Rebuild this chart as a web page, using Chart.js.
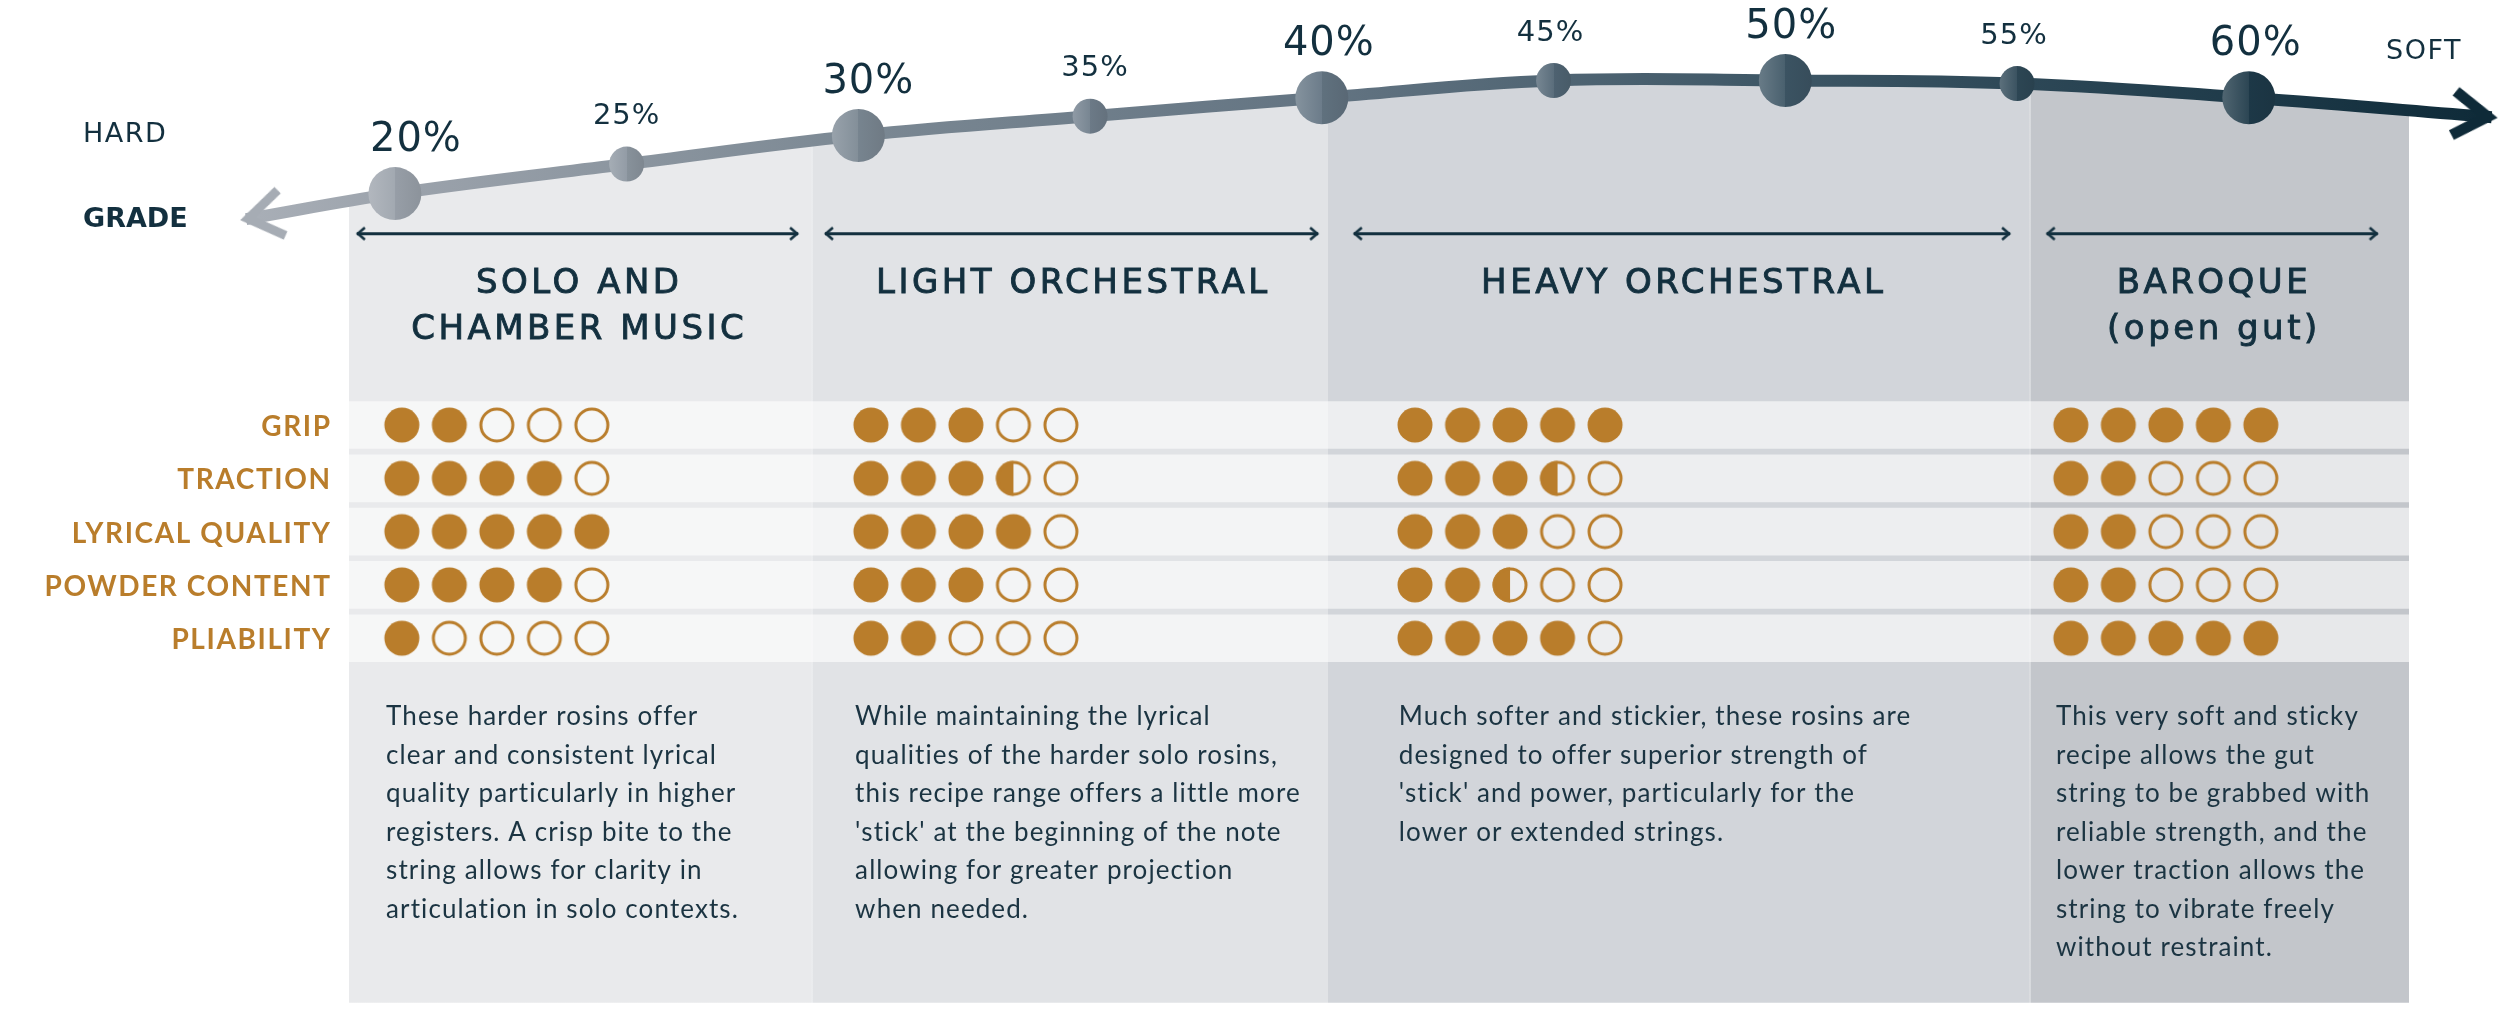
<!DOCTYPE html>
<html>
<head>
<meta charset="utf-8">
<script src="https://cdn.jsdelivr.net/npm/chart.js@4.4.1/dist/chart.umd.min.js"></script>
<style>
  html, body { margin: 0; padding: 0; background: #ffffff; overflow: hidden; }
  canvas { display: block; }
</style>
</head>
<body>
<canvas id="c" width="2500" height="1019" style="width:2500px;height:1019px"></canvas>
<script>
// ================= DATA =================
const grades       = [20, 25, 30, 35, 40, 45, 50, 55, 60];
const gradeLabels  = ['20%', '25%', '30%', '35%', '40%', '45%', '50%', '55%', '60%'];
// elevation of the hardness arc at each grade
const arcHeight    = [79.4, 82.3, 85.1, 87.0, 88.8, 90.5, 90.5, 90.2, 88.8];
// arc end points (hard end, soft end)
const arcEndGrades  = [16.79, 65.24];
const arcEndHeights = [76.9, 86.9];

const categories = [
  ['SOLO AND', 'CHAMBER MUSIC'],
  ['LIGHT ORCHESTRAL'],
  ['HEAVY ORCHESTRAL'],
  ['BAROQUE', '(open gut)']
];
// grade boundaries of the four category panels
const panelEdges = [19.0, 29.0, 40.14, 55.28, 63.45];

const properties = ['GRIP', 'TRACTION', 'LYRICAL QUALITY', 'POWDER CONTENT', 'PLIABILITY'];
const ratingsSolo    = [2, 4, 5, 4, 1];
const ratingsLight   = [3, 3.5, 4, 3, 2];
const ratingsHeavy   = [5, 3.5, 3, 2.5, 4];
const ratingsBaroque = [5, 2, 2, 2, 5];

const descSolo = [
  'These harder rosins offer',
  'clear and consistent lyrical',
  'quality particularly in higher',
  'registers. A crisp bite to the',
  'string allows for clarity in',
  'articulation in solo contexts.'
];
const descLight = [
  'While maintaining the lyrical',
  'qualities of the harder solo rosins,',
  'this recipe range offers a little more',
  "'stick' at the beginning of the note",
  'allowing for greater projection',
  'when needed.'
];
const descHeavy = [
  'Much softer and stickier, these rosins are',
  'designed to offer superior strength of',
  "'stick' and power, particularly for the",
  'lower or extended strings.'
];
const descBaroque = [
  'This very soft and sticky',
  'recipe allows the gut',
  'string to be grabbed with',
  'reliable strength, and the',
  'lower traction allows the',
  'string to vibrate freely',
  'without restraint.'
];
const axisWords = { hard: 'HARD', grade: 'GRADE', soft: 'SOFT' };

// ================= LAYOUT / STYLE =================
const LAYOUT = {
  width: 2500,
  xMin: 11.48, xMax: 65.42,
  arcMin: -1.6, arcMax: 98.4,
  rowMin: -7.974, rowMax: 11.144,
  rangeArrowHeight: 75.47,
  rangeArrows: [[19.18, 28.70], [29.28, 39.92], [40.69, 54.85], [55.64, 62.78]],
  dotStartGrade: [20.15, 30.27, 42.01, 56.16],
  dotStepGrade: 1.025,
  textLeftGrade: [19.81, 29.93, 41.66, 55.84],
  labelDx: [21, 0, 10, 5, 7, -3, 6, -3, 7],
  headingBaselines: [293, 339],
  descFirstBaseline: 725,
  descLineStep: 38.5,
  rowLabelRight: 330,
  arrowRotation: [170, 6]
};
const STYLE = {
  ink: '#13303f',
  text: '#1b3442',
  gold: '#b97d2b',
  panelColors: ['#e9eaec', '#e1e3e6', '#d2d5da', '#c3c6cb'],
  band: 'rgba(255,255,255,0.6)',
  arcStops: [[16.79, '#a9afb7'], [20, '#9ca3ac'], [30, '#7b8893'], [40, '#637482'],
             [50, '#3d5665'], [60, '#1e3a49'], [65.24, '#0e2a38']]
};

// ================= HELPERS =================
function hexToRgb(h) { h = h.replace('#', ''); return [0, 2, 4].map(i => parseInt(h.substr(i, 2), 16)); }
function mix(a, b, t) { return a.map((v, i) => Math.round(v + (b[i] - v) * t)); }
function rgbStr(a) { return 'rgb(' + a[0] + ',' + a[1] + ',' + a[2] + ')'; }
function clamp01(v) { return Math.min(1, Math.max(0, v)); }
function arcColorAt(g) {
  const s = STYLE.arcStops;
  if (g <= s[0][0]) return hexToRgb(s[0][1]);
  for (let i = 1; i < s.length; i++) {
    if (g <= s[i][0]) {
      const t = (g - s[i - 1][0]) / (s[i][0] - s[i - 1][0]);
      return mix(hexToRgb(s[i - 1][1]), hexToRgb(s[i][1]), t);
    }
  }
  return hexToRgb(s[s.length - 1][1]);
}
function scaleReady(chart) {
  const x = chart.scales && chart.scales.x;
  return x && isFinite(x.getPixelForValue(30)) && isFinite(x.getPixelForValue(40)) &&
         x.getPixelForValue(40) !== x.getPixelForValue(30);
}
function arcGradient(chart) {
  if (!scaleReady(chart)) return '#637482';
  const x = chart.scales.x;
  const s = STYLE.arcStops;
  const x0 = x.getPixelForValue(s[0][0]), x1 = x.getPixelForValue(s[s.length - 1][0]);
  const g = chart.ctx.createLinearGradient(x0, 0, x1, 0);
  s.forEach(([v, c]) => g.addColorStop(clamp01((x.getPixelForValue(v) - x0) / (x1 - x0)), c));
  return g;
}
function panelGradient(chart) {
  if (!scaleReady(chart)) return 'rgba(0,0,0,0)';
  const x = chart.scales.x, W = LAYOUT.width;
  const e = panelEdges.map(v => clamp01(x.getPixelForValue(v) / W));
  const d = 1.2 / W;
  const clear = 'rgba(255,255,255,0)';
  const g = chart.ctx.createLinearGradient(0, 0, W, 0);
  g.addColorStop(0, clear);
  g.addColorStop(e[0], clear);
  for (let i = 0; i < 4; i++) {
    g.addColorStop(e[i], STYLE.panelColors[i]);
    if (i === 0 || i === 2) {
      g.addColorStop(e[i + 1] - d, STYLE.panelColors[i]);
      g.addColorStop(e[i + 1] - d, '#f7f8f9');
      g.addColorStop(e[i + 1] + d, '#f7f8f9');
      g.addColorStop(e[i + 1] + d, STYLE.panelColors[i + 1]);
    } else {
      g.addColorStop(e[i + 1], STYLE.panelColors[i]);
    }
  }
  g.addColorStop(e[4], clear);
  g.addColorStop(1, clear);
  return g;
}
function makeCanvas(w, h, draw) {
  const c = document.createElement('canvas');
  c.width = w; c.height = h;
  draw(c.getContext('2d'), w / 2, h / 2);
  return c;
}
const DOT_R = 17.5;
const DOT_FULL = makeCanvas(40, 40, (g, cx, cy) => {
  g.fillStyle = STYLE.gold; g.beginPath(); g.arc(cx, cy, DOT_R, 0, Math.PI * 2); g.fill();
});
const DOT_EMPTY = makeCanvas(40, 40, (g, cx, cy) => {
  g.strokeStyle = STYLE.gold; g.lineWidth = 3; g.beginPath(); g.arc(cx, cy, DOT_R - 1.5, 0, Math.PI * 2); g.stroke();
});
const DOT_HALF = makeCanvas(40, 40, (g, cx, cy) => {
  g.fillStyle = STYLE.gold; g.beginPath(); g.arc(cx, cy, DOT_R, Math.PI / 2, Math.PI * 1.5); g.closePath(); g.fill();
  g.strokeStyle = STYLE.gold; g.lineWidth = 3; g.beginPath(); g.arc(cx, cy, DOT_R - 1.5, 0, Math.PI * 2); g.stroke();
});
function chevron(size, depth, half, lw, color, lead) {
  return makeCanvas(size, size, (g, cx, cy) => {
    const ang = Math.atan2(half, depth);
    const miter = (lw / 2) / Math.sin(ang);
    const ax = cx + lead - miter;
    g.strokeStyle = color; g.lineWidth = lw; g.lineJoin = 'miter'; g.lineCap = 'butt';
    g.beginPath(); g.moveTo(ax - depth, cy - half); g.lineTo(ax, cy); g.lineTo(ax - depth, cy + half); g.stroke();
  });
}
const ARROW_HARD = chevron(110, 34, 23, 9, '#a6acb4', 6);
const ARROW_SOFT = chevron(110, 34, 22, 11, '#0e2a38', 6);
const ARROW_SMALL = chevron(24, 7, 6, 2.6, STYLE.ink, 1);

const ratings = [ratingsSolo, ratingsLight, ratingsHeavy, ratingsBaroque];
function ratingPoints(p) {
  const pts = [];
  properties.forEach((_, r) => {
    for (let i = 0; i < 5; i++) {
      pts.push({ x: LAYOUT.dotStartGrade[p] + i * LAYOUT.dotStepGrade, y: r,
                 level: Math.max(0, Math.min(1, ratings[p][r] - i)) });
    }
  });
  return pts;
}
function isMajor(i) { return grades[i] % 10 === 0; }
function setSpacing(ctx, px) { if ('letterSpacing' in ctx) ctx.letterSpacing = px + 'px'; }

// ================= TEXT PLUGIN =================
const textPlugin = {
  id: 'texts',
  afterDatasetsDraw(chart) {
    const ctx = chart.ctx, x = chart.scales.x, yRow = chart.scales.yRow;
    ctx.save();
    ctx.textBaseline = 'alphabetic';
    // grade labels
    const meta = chart.getDatasetMeta(1);
    setSpacing(ctx, 1);
    meta.data.forEach((pt, i) => {
      const major = isMajor(i);
      ctx.font = major ? '40px "DejaVu Sans"' : '29px "DejaVu Sans"';
      ctx.fillStyle = STYLE.ink;
      ctx.textAlign = 'center';
      ctx.fillText(gradeLabels[i], pt.x + LAYOUT.labelDx[i], pt.y - (major ? 43 : 40));
    });
    // axis words
    ctx.textAlign = 'left';
    ctx.fillStyle = STYLE.ink;
    setSpacing(ctx, 1.5);
    ctx.font = '27px "DejaVu Sans"';
    ctx.fillText(axisWords.hard, 83, 142);
    ctx.fillText(axisWords.soft, 2386, 59);
    setSpacing(ctx, 0);
    ctx.font = 'bold 27px "DejaVu Sans"';
    ctx.fillText(axisWords.grade, 83, 227);
    // headings
    ctx.textAlign = 'center';
    ctx.font = '34px "DejaVu Sans"';
    setSpacing(ctx, 3.5);
    ctx.strokeStyle = STYLE.ink;
    ctx.lineWidth = 0.9;
    categories.forEach((lines, p) => {
      const cx = (x.getPixelForValue(LAYOUT.rangeArrows[p][0]) + x.getPixelForValue(LAYOUT.rangeArrows[p][1])) / 2;
      lines.forEach((t, k) => {
        ctx.fillText(t, cx + 1.75, LAYOUT.headingBaselines[k]);
        ctx.strokeText(t, cx + 1.75, LAYOUT.headingBaselines[k]);
      });
    });
    // property labels
    ctx.textAlign = 'right';
    ctx.fillStyle = STYLE.gold;
    ctx.font = 'bold 28px Lato';
    setSpacing(ctx, 1.6);
    properties.forEach((t, r) => ctx.fillText(t, LAYOUT.rowLabelRight + 1.6, yRow.getPixelForValue(r) + 11));
    // descriptions
    ctx.textAlign = 'left';
    ctx.fillStyle = STYLE.text;
    ctx.font = '26px Lato';
    setSpacing(ctx, 1.1);
    [descSolo, descLight, descHeavy, descBaroque].forEach((lines, p) => {
      const lx = x.getPixelForValue(LAYOUT.textLeftGrade[p]);
      lines.forEach((t, k) => ctx.fillText(t, lx, LAYOUT.descFirstBaseline + k * LAYOUT.descLineStep));
    });
    setSpacing(ctx, 0);
    ctx.restore();
  }
};

// ================= CHART =================
function build() {
  const arcPoints = [{ x: arcEndGrades[0], y: arcEndHeights[0] }]
    .concat(grades.map((g, i) => ({ x: g, y: arcHeight[i] })))
    .concat([{ x: arcEndGrades[1], y: arcEndHeights[1] }]);

  const datasets = [
    { // 0: arc line with panel fill underneath
      type: 'line', data: arcPoints, xAxisID: 'x', yAxisID: 'yArc',
      borderColor: c => arcGradient(c.chart), borderWidth: 12, tension: 0.4,
      backgroundColor: c => panelGradient(c.chart), fill: { value: 0 },
      pointRadius: 0, order: 10, clip: false
    },
    { // 1: grade dots
      type: 'line', data: grades.map((g, i) => ({ x: g, y: arcHeight[i] })), xAxisID: 'x', yAxisID: 'yArc',
      showLine: false, order: 2, clip: false,
      pointRadius: c => isMajor(c.dataIndex) ? 26.5 : 17.5,
      pointBorderWidth: 0,
      pointBackgroundColor: c => {
        if (c.type !== 'data' || !c.parsed || !scaleReady(c.chart)) return '#667785';
        const px = c.chart.scales.x.getPixelForValue(c.parsed.x);
        const r = isMajor(c.dataIndex) ? 26.5 : 17.5;
        const base = arcColorAt(c.parsed.x);
        const g = c.chart.ctx.createLinearGradient(px - r, 0, px + r, 0);
        g.addColorStop(0, rgbStr(mix(base, [255, 255, 255], 0.22)));
        g.addColorStop(0.5, rgbStr(mix(base, [255, 255, 255], 0.06)));
        g.addColorStop(0.5, rgbStr(mix(base, [0, 0, 0], 0.03)));
        g.addColorStop(1, rgbStr(mix(base, [0, 0, 0], 0.10)));
        return g;
      }
    },
    { // 2: arc arrowheads
      type: 'scatter', data: arcEndGrades.map((g, i) => ({ x: g, y: arcEndHeights[i] })), xAxisID: 'x', yAxisID: 'yArc',
      pointStyle: [ARROW_HARD, ARROW_SOFT], pointRotation: LAYOUT.arrowRotation, pointRadius: 20, order: 1, clip: false
    }
  ];
  // range arrows
  LAYOUT.rangeArrows.forEach(r => {
    datasets.push({
      type: 'line', data: r.map(g => ({ x: g, y: LAYOUT.rangeArrowHeight })), xAxisID: 'x', yAxisID: 'yArc',
      borderColor: STYLE.ink, borderWidth: 3, pointStyle: ARROW_SMALL, pointRotation: [180, 0],
      pointRadius: 5, order: 3, clip: false, fill: false
    });
  });
  // row bands
  datasets.push({
    type: 'bar', indexAxis: 'y', xAxisID: 'x', yAxisID: 'yRow',
    data: properties.map((_, r) => ({ y: r, x: [panelEdges[0], panelEdges[4]] })),
    backgroundColor: STYLE.band, borderWidth: 0, barThickness: 47, order: 8, grouped: true
  });
  // rating dots
  ratings.forEach((_, p) => {
    datasets.push({
      type: 'scatter', data: ratingPoints(p), xAxisID: 'x', yAxisID: 'yRow',
      pointStyle: c => (c.raw && c.raw.level >= 1) ? DOT_FULL : (c.raw && c.raw.level > 0 ? DOT_HALF : DOT_EMPTY),
      pointRadius: 18, order: 1, clip: false
    });
  });

  new Chart(document.getElementById('c'), {
    type: 'line',
    data: { datasets },
    options: {
      responsive: false, devicePixelRatio: 1, animation: false,
      layout: { padding: 0, autoPadding: false },
      events: [],
      plugins: { legend: { display: false }, tooltip: { enabled: false }, filler: { drawTime: 'beforeDatasetsDraw' } },
      scales: {
        x: { type: 'linear', min: LAYOUT.xMin, max: LAYOUT.xMax, display: false, offset: false, beginAtZero: false, bounds: 'data' },
        yArc: { type: 'linear', min: LAYOUT.arcMin, max: LAYOUT.arcMax, display: false, offset: false },
        yRow: { type: 'linear', min: LAYOUT.rowMin, max: LAYOUT.rowMax, reverse: true, display: false, offset: false, beginAtZero: false }
      }
    },
    plugins: [textPlugin]
  });
}
Promise.all([
  document.fonts.load('26px Lato'), document.fonts.load('bold 28px Lato'),
  document.fonts.load('40px "DejaVu Sans"'), document.fonts.load('bold 27px "DejaVu Sans"')
]).catch(() => {}).then(build);
</script>
</body>
</html>
